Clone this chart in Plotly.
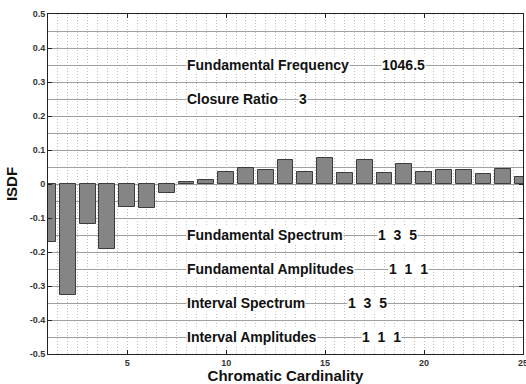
import plotly.graph_objects as go

# Chromatic cardinality (x) and ISDF value for each cardinality
cardinality = list(range(1, 26))
isdf = [-0.172, -0.326, -0.119, -0.192, -0.067, -0.071, -0.026, 0.007, 0.013,
        0.036, 0.048, 0.040, 0.071, 0.035, 0.077, 0.033, 0.071, 0.033, 0.059,
        0.036, 0.042, 0.040, 0.030, 0.044, 0.020]

y_tick_vals = [-0.5, -0.4, -0.3, -0.2, -0.1, 0.0, 0.1, 0.2, 0.3, 0.4, 0.5]
y_tick_text = ["-0.5", "-0.4", "-0.3", "-0.2", "-0.1", "0", "0.1", "0.2", "0.3", "0.4", "0.5"]
x_tick_vals = [5, 10, 15, 20, 25]
x_tick_text = ["5", "10", "15", "20", "25"]

# Parameters printed inside the axes
fundamental_frequency = 1046.5
closure_ratio = 3
fundamental_spectrum = [1, 3, 5]
fundamental_amplitudes = [1, 1, 1]
interval_spectrum = [1, 3, 5]
interval_amplitudes = [1, 1, 1]

GAP = "\u00a0\u00a0"


def vec(v):
    return GAP.join(str(n) for n in v)


FONT = "Liberation Sans, Arial, sans-serif"

fig = go.Figure()
fig.add_trace(go.Bar(
    x=cardinality, y=isdf, width=0.8,
    marker=dict(color="#858585", line=dict(color="#3c3c3c", width=1)),
))

# label text, label position, value text, value x position
rows = [
    ("Fundamental Frequency", 0.35, f"{fundamental_frequency:g}", 17.85),
    ("Closure Ratio", 0.25, str(closure_ratio), 13.65),
    ("Fundamental Spectrum", -0.15, vec(fundamental_spectrum), 17.6),
    ("Fundamental Amplitudes", -0.25, vec(fundamental_amplitudes), 18.2),
    ("Interval Spectrum", -0.35, vec(interval_spectrum), 16.1),
    ("Interval Amplitudes", -0.45, vec(interval_amplitudes), 16.8),
]
for label, yv, val, xv in rows:
    for txt, xx in ((label, 7.95), (val, xv)):
        fig.add_annotation(
            x=xx, y=yv, xref="x", yref="y", text=txt, showarrow=False,
            xanchor="left", yanchor="middle", bgcolor="white", borderpad=0,
            font=dict(family=FONT, size=14, color="#111111", weight="bold"),
        )

axis_common = dict(
    showline=True, linecolor="#222222", linewidth=1, mirror="ticks",
    ticks="inside", ticklen=4, tickcolor="#222222",
    tickfont=dict(family=FONT, size=9, color="#333333", weight="bold"),
    zeroline=False, showgrid=True, ticklabeloverflow="allow", automargin=False,
)

fig.update_xaxes(
    range=[1, 25], tickvals=x_tick_vals, ticktext=x_tick_text,
    gridcolor="#c0c0c0", griddash="1px,2px", gridwidth=1,
    minor=dict(dtick=0.5, tick0=0, showgrid=True, gridcolor="#c0c0c0",
               griddash="1px,2px", gridwidth=1),
    title=dict(text="Chromatic Cardinality", standoff=4,
               font=dict(family=FONT, size=15, color="#111111", weight="bold")),
    **axis_common,
)
fig.update_yaxes(
    range=[-0.5, 0.5], tickvals=y_tick_vals, ticktext=y_tick_text,
    gridcolor="#a0a0a0", gridwidth=1,
    minor=dict(dtick=0.05, tick0=0, showgrid=True, gridcolor="#a0a0a0", gridwidth=1),
    title=dict(text="ISDF", standoff=8,
               font=dict(family=FONT, size=15, color="#111111", weight="bold")),
    **axis_common,
)

fig.update_layout(
    width=526, height=384,
    margin=dict(l=48, r=3, t=14, b=30),
    paper_bgcolor="white", plot_bgcolor="white",
    showlegend=False, bargap=0,
)

fig.write_html("out.html")
